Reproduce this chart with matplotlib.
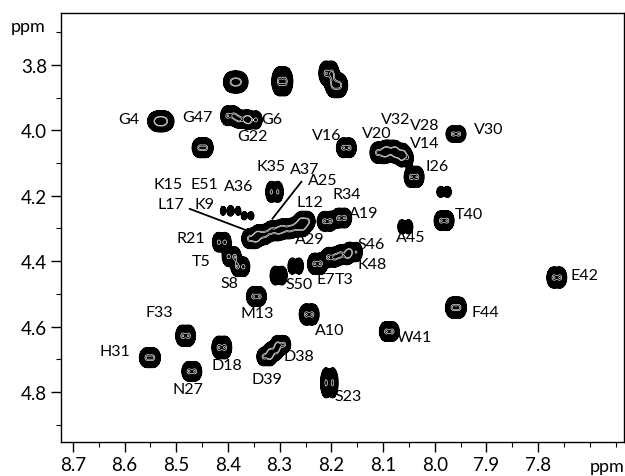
import numpy as np
import matplotlib
matplotlib.use('Agg')
import matplotlib.pyplot as plt
from matplotlib.ticker import MultipleLocator

plt.rcParams['font.family'] = ['Lato', 'DejaVu Sans']

# ---------------------------------------------------------------------------
# Peak list: 1H shift (x), 13C/1H shift (y), intensity, linewidths (ppm)
# ---------------------------------------------------------------------------
peak_x = [8.385, 8.295, 8.205, 8.190, 8.530, 8.395, 8.372, 8.352, 8.449,
          8.171, 8.105, 8.085, 8.067, 8.058, 8.040, 7.959, 7.982, 7.982,
          8.057, 8.208, 8.180, 8.310, 8.403, 8.387, 8.362,
          8.353, 8.335, 8.310, 8.287, 8.262, 8.252,
          8.412, 8.393, 8.376, 8.302, 8.269, 8.227, 8.200, 8.176, 8.158,
          8.345, 8.243, 8.482, 8.551, 8.470, 8.412, 8.325, 8.312, 8.298,
          8.088, 7.959, 7.764, 8.204]
peak_y = [3.852, 3.850, 3.825, 3.862, 3.972, 3.955, 3.966, 3.968, 4.053,
          4.053, 4.068, 4.063, 4.070, 4.085, 4.142, 4.011, 4.188, 4.276,
          4.295, 4.278, 4.268, 4.188, 4.246, 4.246, 4.261,
          4.331, 4.319, 4.307, 4.301, 4.295, 4.278,
          4.342, 4.386, 4.417, 4.444, 4.415, 4.408, 4.388, 4.380, 4.372,
          4.508, 4.563, 4.628, 4.695, 4.737, 4.664, 4.692, 4.675, 4.655,
          4.615, 4.542, 4.450, 4.772]
peak_amp = [1.0, 1.0, 1.0, 1.0, 1.2, 1.0, 1.0, 1.0, 1.0,
            1.0, 1.0, 1.0, 1.0, 0.8, 1.0, 1.0, 0.4, 1.0,
            0.5, 1.0, 1.0, 1.0, 0.3, 0.3, 0.25,
            1.0, 1.0, 1.0, 1.0, 1.0, 1.0,
            1.0, 1.0, 1.0, 0.8, 0.6, 1.0, 1.0, 1.0, 0.9,
            1.0, 1.0, 1.0, 1.0, 1.0, 1.0, 1.0, 0.9, 1.0,
            1.0, 1.0, 1.0, 1.0]
peak_wx = [0.0075, 0.0060, 0.0055, 0.0065, 0.0080, 0.0055, 0.0055, 0.0050, 0.0060,
           0.0055, 0.0060, 0.0060, 0.0055, 0.0045, 0.0055, 0.0055, 0.0040, 0.0055,
           0.0040, 0.0055, 0.0055, 0.0045, 0.0030, 0.0030, 0.0035,
           0.0060, 0.0060, 0.0060, 0.0060, 0.0060, 0.0060,
           0.0050, 0.0050, 0.0050, 0.0045, 0.0040, 0.0055, 0.0055, 0.0055, 0.0050,
           0.0055, 0.0055, 0.0055, 0.0060, 0.0055, 0.0055, 0.0055, 0.0055, 0.0055,
           0.0055, 0.0060, 0.0055, 0.0045]
peak_wy = [0.014, 0.019, 0.016, 0.016, 0.013, 0.013, 0.012, 0.012, 0.013,
           0.013, 0.014, 0.014, 0.013, 0.012, 0.014, 0.011, 0.009, 0.013,
           0.011, 0.013, 0.013, 0.014, 0.008, 0.008, 0.008,
           0.013, 0.013, 0.013, 0.013, 0.013, 0.013,
           0.013, 0.013, 0.013, 0.013, 0.012, 0.014, 0.013, 0.013, 0.013,
           0.013, 0.014, 0.014, 0.013, 0.013, 0.015, 0.012, 0.012, 0.012,
           0.013, 0.014, 0.014, 0.020]

# Assignment labels and where they are written
labels = ['G4', 'G47', 'G6', 'G22', 'V16', 'V20', 'V32', 'V28', 'V14', 'V30',
          'I26', 'T40', 'A45', 'R34', 'A19', 'A37', 'A25', 'L12', 'A29', 'K35',
          'K15', 'E51', 'A36', 'L17', 'K9', 'R21', 'T5', 'S8', 'S50', 'E7',
          'T3', 'S46', 'K48', 'M13', 'A10', 'F33', 'H31', 'D18', 'N27', 'D39',
          'D38', 'W41', 'F44', 'E42', 'S23']
label_x = [8.592, 8.459, 8.316, 8.353, 8.210, 8.113, 8.075, 8.019, 8.020, 7.895,
           7.995, 7.934, 8.047, 8.171, 8.138, 8.252, 8.217, 8.242, 8.242, 8.316,
           8.515, 8.445, 8.380, 8.511, 8.445, 8.472, 8.451, 8.397, 8.262, 8.210,
           8.175, 8.123, 8.121, 8.343, 8.204, 8.532, 8.619, 8.403, 8.478, 8.325,
           8.262, 8.040, 7.903, 7.710, 8.167]
label_y = [3.965, 3.959, 3.965, 4.017, 4.014, 4.008, 3.965, 3.983, 4.038, 3.995,
           4.108, 4.255, 4.325, 4.194, 4.252, 4.119, 4.153, 4.218, 4.331, 4.108,
           4.163, 4.163, 4.169, 4.224, 4.224, 4.328, 4.398, 4.466, 4.469, 4.456,
           4.456, 4.347, 4.408, 4.560, 4.609, 4.554, 4.676, 4.719, 4.792, 4.759,
           4.689, 4.631, 4.554, 4.441, 4.811]

# leader lines (from label to overlapped peaks)
leader_x = [(8.474, 8.362), (8.258, 8.314)]
leader_y = [(4.240, 4.307), (4.157, 4.270)]

x_ticks = [8.7, 8.6, 8.5, 8.4, 8.3, 8.2, 8.1, 8.0, 7.9, 7.8]
y_ticks = [3.8, 4.0, 4.2, 4.4, 4.6, 4.8]

# ---------------------------------------------------------------------------
# Build the spectrum (each cross peak is a small doublet in the 1H dimension)
# ---------------------------------------------------------------------------
xlim = (8.723, 7.634)
ylim = (4.953, 3.641)
J = 0.013

xg = np.linspace(7.634, 8.723, 1000)
yg = np.linspace(3.641, 4.953, 900)
X, Y = np.meshgrid(xg, yg)
Z = np.zeros_like(X)
for px, py, a, sx, sy in zip(peak_x, peak_y, peak_amp, peak_wx, peak_wy):
    for off in (-J / 2, J / 2):
        Z += a * np.exp(-((X - px - off) ** 2) / (2 * sx ** 2) - ((Y - py) ** 2) / (2 * sy ** 2))

fig = plt.figure(figsize=(6.25, 4.77), dpi=100)
ax = fig.add_axes([0.0976, 0.0713, 0.9008, 0.8993])

ax.contourf(X, Y, Z, levels=[0.075, Z.max() + 1], colors='black')
ax.contour(X, Y, Z, levels=[0.075, 0.09], colors='black', linewidths=0.9)
ax.contour(X, Y, Z, levels=[0.9, 1.05], colors='white', linewidths=0.45)

for lx, ly in zip(leader_x, leader_y):
    ax.plot(lx, ly, color='black', lw=1.3)

for t, lx, ly in zip(labels, label_x, label_y):
    ax.text(lx, ly, t, fontsize=11.5, ha='center', va='center', color='black')

ax.set_xlim(xlim)
ax.set_ylim(ylim)
ax.set_xticks(x_ticks)
ax.set_xticklabels(['%.1f' % v for v in x_ticks])
ax.set_yticks(y_ticks)
ax.set_yticklabels(['%.1f' % v for v in y_ticks])
ax.xaxis.set_minor_locator(MultipleLocator(0.05))
ax.yaxis.set_minor_locator(MultipleLocator(0.1))
ax.tick_params(which='major', direction='out', length=7, width=1.0, labelsize=13.5, pad=3)
ax.tick_params(which='minor', direction='out', length=3.5, width=0.8)
for s in ax.spines.values():
    s.set_linewidth(1.0)

fig.text(0.045, 0.943, 'ppm', fontsize=13, ha='center', va='center')
fig.text(0.971, 0.021, 'ppm', fontsize=13, ha='center', va='center')

fig.savefig('out.png', dpi=100)
